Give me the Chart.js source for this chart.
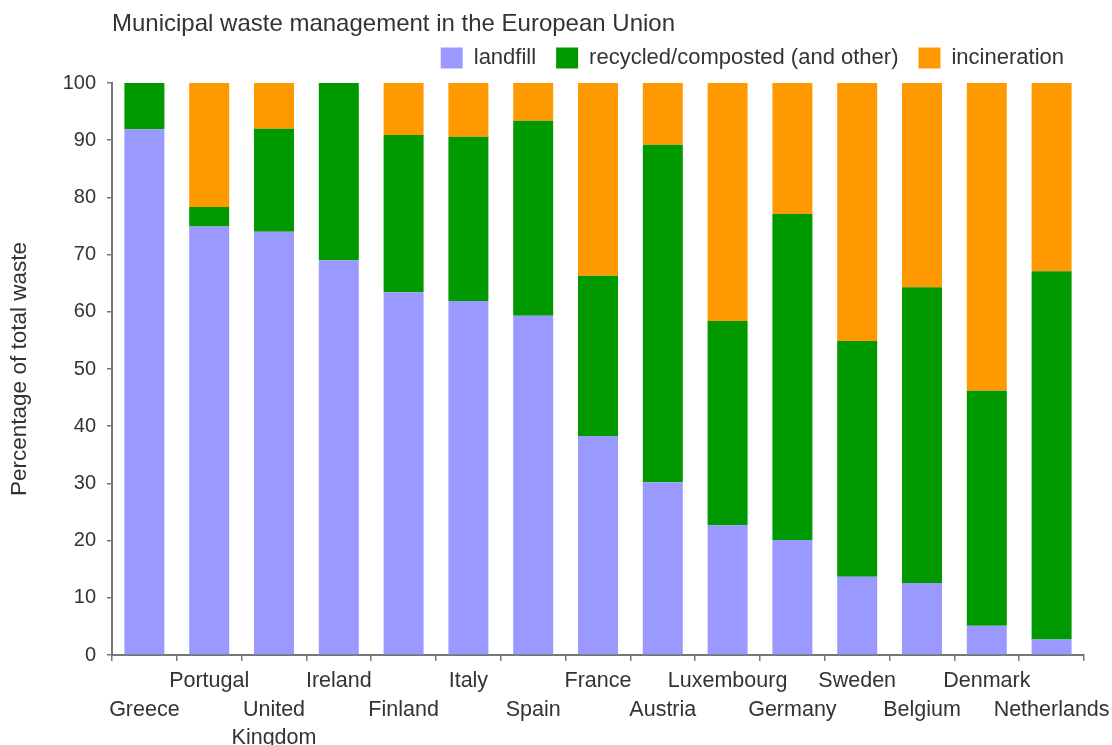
<!DOCTYPE html>
<html>
<head>
<meta charset="utf-8">
<script src="https://cdn.jsdelivr.net/npm/chart.js@4/dist/chart.umd.min.js"></script>
<style>
html,body{margin:0;padding:0;background:#fff;}
#wrap{width:1112px;height:745px;}
</style>
</head>
<body>
<div id="wrap"><canvas id="c" width="1112" height="745"></canvas></div>
<script>
const countries = [
  ['', 'Greece'], ['Portugal'], ['', 'United', 'Kingdom'], ['Ireland'], ['', 'Finland'],
  ['Italy'], ['', 'Spain'], ['France'], ['', 'Austria'], ['Luxembourg'],
  ['', 'Germany'], ['Sweden'], ['', 'Belgium'], ['Denmark'], ['', 'Netherlands']
];
const landfill     = [91.9, 74.9, 74.0, 69.0, 63.4, 61.9, 59.3, 38.3, 30.2, 22.7, 20.1, 13.7, 12.6, 5.1, 2.7];
const recycled     = [ 8.1,  3.4, 18.0, 31.0, 27.5, 28.7, 34.1, 28.0, 59.0, 35.7, 57.0, 41.2, 51.7, 41.1, 64.4];
const incineration = [ 0.0, 21.7,  8.0,  0.0,  9.1,  9.4,  6.6, 33.7, 10.8, 41.6, 22.9, 45.1, 35.7, 53.8, 32.9];
const yTicks = [0, 10, 20, 30, 40, 50, 60, 70, 80, 90, 100];

const FONT = "'Liberation Sans', Arial, sans-serif";
const TXT = '#333333';
const AXIS = '#777777';

// small empty layout box that leaves a gap between the legend and the plot area
const legendGap = {
  id: 'legendGap',
  beforeInit(chart) {
    Chart.layouts.addBox(chart, {
      options: {},
      position: 'top', fullSize: false, weight: -10,
      top: 0, left: 0, right: 0, bottom: 0, width: 0, height: 4,
      isHorizontal() { return true; },
      update(maxWidth) { this.width = maxWidth; this.height = 4; },
      getPadding() { return { top: 0, left: 0, right: 0, bottom: 0 }; },
      draw() {}
    });
  }
};

new Chart(document.getElementById('c'), {
  type: 'bar',
  data: {
    labels: countries,
    datasets: [
      { label: 'landfill', data: landfill, backgroundColor: '#9999FF' },
      { label: 'recycled/composted (and other)', data: recycled, backgroundColor: '#009900' },
      { label: 'incineration', data: incineration, backgroundColor: '#FF9900' }
    ]
  },
  plugins: [legendGap],
  options: {
    responsive: false,
    devicePixelRatio: 1,
    animation: false,
    layout: { padding: { left: 0, right: 28, top: 0, bottom: 0 } },
    datasets: { bar: { barPercentage: 0.617, categoryPercentage: 1.0, borderWidth: 0 } },
    plugins: {
      title: {
        display: true,
        text: 'Municipal waste management in the European Union',
        align: 'start',
        fullSize: false,
        color: TXT,
        font: { family: FONT, size: 24, weight: 'normal', lineHeight: 1.2 },
        padding: { top: 9.6, bottom: -11.4 }
      },
      legend: {
        display: true,
        position: 'top',
        align: 'end',
        fullSize: false,
        labels: {
          color: TXT,
          font: { family: FONT, size: 22 },
          boxWidth: 22,
          boxHeight: 21,
          padding: 20
        }
      },
      tooltip: { enabled: false }
    },
    scales: {
      x: {
        stacked: true,
        grid: { display: true, drawOnChartArea: false, offset: true, tickLength: 6, color: AXIS, lineWidth: 1.5 },
        border: { display: true, color: AXIS, width: 2 },
        ticks: {
          color: TXT,
          font: { family: FONT, size: 21.5, lineHeight: 1.33 },
          maxRotation: 0, minRotation: 0, autoSkip: false, padding: 6
        },
        afterFit: (s) => { s.height = 90; s.paddingLeft = 0; s.paddingRight = 0; }
      },
      y: {
        stacked: true,
        min: 0, max: 100,
        afterBuildTicks: (s) => { s.ticks = yTicks.map(v => ({ value: v })); },
        grid: { display: true, drawOnChartArea: false, tickLength: 5, color: AXIS, lineWidth: 1.5 },
        border: { display: true, color: AXIS, width: 2 },
        ticks: { color: TXT, font: { family: FONT, size: 20 }, padding: 11 },
        title: {
          display: true,
          text: 'Percentage of total waste',
          color: TXT,
          font: { family: FONT, size: 22.5 },
          padding: { top: 6, bottom: 0 }
        },
        afterFit: (s) => { s.width = 112; s.paddingTop = 0; s.paddingBottom = 0; }
      }
    }
  }
});
</script>
</body>
</html>
